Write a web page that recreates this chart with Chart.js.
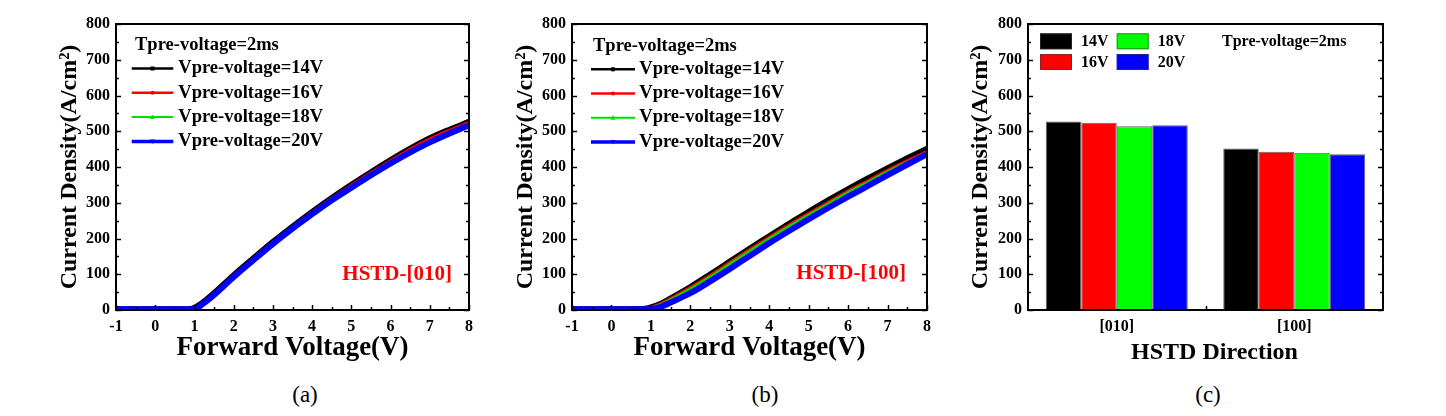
<!DOCTYPE html>
<html><head><meta charset="utf-8">
<script src="https://cdn.jsdelivr.net/npm/chart.js@4.4.1/dist/chart.umd.min.js"></script>
<style>
html,body{margin:0;padding:0;background:#fff;width:1446px;height:416px;overflow:hidden;position:relative;}
canvas{position:absolute;top:0;}
.cap{position:absolute;top:381px;font:23px "Liberation Serif","Times New Roman",serif;color:#000;transform:translateX(-50%);white-space:nowrap;line-height:28px;}
</style></head><body>
<canvas id="ca" style="left:0px" width="480" height="370"></canvas>
<canvas id="cb" style="left:480px" width="466" height="370"></canvas>
<canvas id="cc" style="left:960px" width="486" height="370"></canvas>
<div class="cap" style="left:305px">(a)</div>
<div class="cap" style="left:765px">(b)</div>
<div class="cap" style="left:1208px">(c)</div>
<script>
// ---------- data ----------
const voltage = [-1, -0.5, 0, 0.5, 0.85, 1, 1.25, 1.5, 2, 2.5, 3, 3.5, 4, 4.5, 5, 5.5, 6, 6.5, 7, 7.5, 8];
const seriesNames = ['Vpre-voltage=14V', 'Vpre-voltage=16V', 'Vpre-voltage=18V', 'Vpre-voltage=20V'];

// panel (a) HSTD-[010]
const a14V = [3, 3, 3, 3, 3, 7, 25, 48, 98, 145, 191, 234, 275, 314, 351, 386, 420, 452, 481, 505, 527];
const a16V = [3, 3, 3, 3, 3, 6, 23, 46, 96, 143, 189, 232, 273, 312, 348, 383, 417, 449, 478, 502, 524];
const a18V = [4, 4, 4, 4, 4, 4, 18, 40, 89, 136, 182, 225, 265, 303, 338, 373, 406, 437, 465, 490, 514];
const a20V = [2, 2, 2, 2, 2, 3, 20, 42, 92, 139, 185, 228, 268, 307, 342, 377, 410, 441, 469, 494, 517];

// panel (b) HSTD-[100]
const b14V = [3, 3, 3, 3, 4, 8, 18, 33, 65, 100, 136, 172, 207, 242, 275, 308, 339, 369, 397, 425, 452];
const b16V = [3, 3, 3, 3, 4, 7, 17, 31, 62, 96, 132, 168, 203, 237, 269, 301, 332, 361, 390, 417, 443];
const b18V = [4, 4, 4, 4, 4, 6, 16, 30, 59, 93, 129, 165, 200, 234, 266, 298, 329, 358, 387, 414, 440];
const b20V = [2, 2, 2, 2, 2, 3, 9, 21, 47, 80, 115, 151, 187, 221, 254, 286, 317, 347, 377, 407, 436];

// panel (c)
const directions = ['[010]', '[100]'];
const barNames = ['14V', '16V', '18V', '20V'];
const bar14V = [527, 452];
const bar16V = [524, 443];
const bar18V = [514, 440];
const bar20V = [517, 436];

const xMin = -1, xMax = 8, xStep = 1;
const yMin = 0, yMax = 800, yStep = 100;

const legendTitle = 'Tpre-voltage=2ms';
const yTitle = 'Current Density(A/cm²)';
const xTitleLine = 'Forward Voltage(V)';
const xTitleBar = 'HSTD Direction';

// ---------- styles ----------
const FONT = '"Liberation Serif","Times New Roman",serif';
Chart.defaults.font.family = FONT;
Chart.defaults.color = '#000';
const lineColors = ['#000000', '#ff0000', '#00dd00', '#0000ff'];
const lineWidths = [5.5, 3.5, 2.5, 6];
const legendLineWidths = [2.5, 2.5, 2, 3.5];
const markers = ['rect', 'circle', 'tri', 'itri'];
const barColors = ['#000000', '#ff0000', '#00ff00', '#0000ff'];

function pts(vals) { return voltage.map((v, i) => ({x: v, y: vals[i]})); }

const frameTicks = {
  id: 'frameTicks',
  afterDraw(chart) {
    const {ctx, chartArea: a, scales: {x, y}} = chart;
    ctx.save();
    ctx.strokeStyle = '#000';
    ctx.lineWidth = 1.5;
    ctx.beginPath();
    const yt = y.ticks.map(t => t.value);
    yt.forEach((v, i) => {
      const p = Math.round(y.getPixelForValue(v)) + 0.5;
      ctx.moveTo(a.left, p); ctx.lineTo(a.left + 5, p);
      ctx.moveTo(a.right, p); ctx.lineTo(a.right - 5, p);
      if (i < yt.length - 1) {
        const m = Math.round(y.getPixelForValue((v + yt[i + 1]) / 2)) + 0.5;
        ctx.moveTo(a.left, m); ctx.lineTo(a.left + 3, m);
        ctx.moveTo(a.right, m); ctx.lineTo(a.right - 3, m);
      }
    });
    if (x.type === 'linear') {
      const xt = x.ticks.map(t => t.value);
      xt.forEach((v, i) => {
        const p = Math.round(x.getPixelForValue(v)) + 0.5;
        ctx.moveTo(p, a.bottom); ctx.lineTo(p, a.bottom - 5);
        if (i < xt.length - 1) {
          const m = Math.round(x.getPixelForValue((v + xt[i + 1]) / 2)) + 0.5;
          ctx.moveTo(m, a.bottom); ctx.lineTo(m, a.bottom - 3);
        }
      });
    } else {
      const n = chart.data.labels.length;
      for (let i = 0; i < n - 1; i++) {
        const m = Math.round(x.getPixelForValue(i + 0.5)) + 0.5;
        ctx.moveTo(m, a.bottom); ctx.lineTo(m, a.bottom - 4);
      }
    }
    ctx.stroke();
    ctx.lineWidth = 2;
    ctx.strokeRect(a.left, a.top, a.right - a.left, a.bottom - a.top);
    ctx.restore();
  }
};

function drawMarker(ctx, kind, cx, cy, r, color) {
  ctx.fillStyle = color;
  ctx.beginPath();
  if (kind === 'rect') ctx.rect(cx - r, cy - r, 2 * r, 2 * r);
  else if (kind === 'circle') ctx.arc(cx, cy, r, 0, Math.PI * 2);
  else if (kind === 'tri') { ctx.moveTo(cx, cy - r * 1.3); ctx.lineTo(cx + r * 1.2, cy + r); ctx.lineTo(cx - r * 1.2, cy + r); ctx.closePath(); }
  else { ctx.moveTo(cx, cy + r * 1.3); ctx.lineTo(cx + r * 1.2, cy - r); ctx.lineTo(cx - r * 1.2, cy - r); ctx.closePath(); }
  ctx.fill();
}

const lineLegend = {
  id: 'lineLegend',
  afterDraw(chart, args, o) {
    const {ctx, chartArea: a} = chart;
    ctx.save();
    ctx.font = 'bold 18.5px ' + FONT;
    ctx.textBaseline = 'middle';
    ctx.textAlign = 'left';
    ctx.fillStyle = '#000';
    ctx.fillText(legendTitle, a.left + o.titleDx, a.top + o.titleDy);
    chart.data.datasets.forEach((ds, i) => {
      const yy = a.top + o.row0 + i * o.rowStep;
      ctx.strokeStyle = ds.borderColor;
      ctx.lineWidth = legendLineWidths[i];
      ctx.beginPath();
      ctx.moveTo(a.left + o.line0, yy); ctx.lineTo(a.left + o.line1, yy);
      ctx.stroke();
      drawMarker(ctx, markers[i], a.left + (o.line0 + o.line1) / 2, yy, 2, ds.borderColor);
      ctx.fillStyle = '#000';
      ctx.fillText(ds.label, a.left + o.text0, yy);
    });
    ctx.fillStyle = '#ff0000';
    ctx.font = 'bold 21px ' + FONT;
    ctx.textAlign = 'right';
    ctx.fillText(o.tag, a.right - o.tagDr, a.top + o.tagDy);
    ctx.restore();
  }
};

const barLegend = {
  id: 'barLegend',
  afterDraw(chart) {
    const {ctx, chartArea: a} = chart;
    ctx.save();
    ctx.font = 'bold 16px ' + FONT;
    ctx.textBaseline = 'middle';
    ctx.textAlign = 'left';
    const cols = [12, 88.7];
    const rows = [9.3, 30];
    chart.data.datasets.forEach((ds, i) => {
      const c = Math.floor(i / 2), r = i % 2;
      const bx = a.left + cols[c], by = a.top + rows[r];
      ctx.fillStyle = ds.backgroundColor;
      ctx.fillRect(bx, by, 32, 16);
      ctx.strokeStyle = 'rgba(60,60,60,0.6)';
      ctx.lineWidth = 1;
      ctx.strokeRect(bx + 0.5, by + 0.5, 31, 15);
      ctx.fillStyle = '#000';
      ctx.fillText(ds.label, bx + 41, by + 8.5);
    });
    ctx.fillText(legendTitle, a.left + 194, a.top + 17.5);
    ctx.restore();
  }
};

function yScale(width, titlePad) {
  return {
    min: yMin, max: yMax,
    ticks: {stepSize: yStep, padding: 6, font: {size: 16, weight: 'bold'}, color: '#000'},
    grid: {display: false, drawTicks: false},
    border: {display: false},
    title: {display: true, text: yTitle, font: {size: 24, weight: 'bold'}, color: '#000', padding: {top: titlePad, bottom: 0}},
    afterFit(s) { s.width = width; }
  };
}

function lineChart(id, sets, yWidth, yTitlePad, rightPad, legendOpts) {
  return new Chart(document.getElementById(id), {
    type: 'line',
    data: {
      datasets: sets.map((vals, i) => ({
        label: seriesNames[i],
        data: pts(vals),
        borderColor: lineColors[i],
        borderWidth: lineWidths[i],
        pointRadius: 0,
        cubicInterpolationMode: 'monotone',
        fill: false,
        order: 3 - i
      }))
    },
    options: {
      responsive: false, animation: false, devicePixelRatio: 1,
      layout: {padding: {left: 0, top: 24, right: rightPad, bottom: 0}},
      plugins: {legend: {display: false}, tooltip: {enabled: false}, lineLegend: legendOpts},
      scales: {
        x: {
          type: 'linear', min: xMin, max: xMax,
          ticks: {stepSize: xStep, padding: 7, font: {size: 16, weight: 'bold'}, color: '#000'},
          grid: {display: false, drawTicks: false},
          border: {display: false},
          title: {display: true, text: xTitleLine, font: {size: 27, weight: 'bold'}, color: '#000', padding: {top: 0, bottom: 6}},
          afterFit(s) { s.height = 60; }
        },
        y: yScale(yWidth, yTitlePad)
      }
    },
    plugins: [frameTicks, lineLegend]
  });
}

lineChart('ca', [a14V, a16V, a18V, a20V], 116, 55.6, 9,
  {titleDx: 19, titleDy: 21.5, line0: 15.7, line1: 57.3, text0: 62.3, row0: 44.5, rowStep: 24.3, tag: 'HSTD-[010]', tagDr: 17, tagDy: 251});
lineChart('cb', [b14V, b16V, b18V, b20V], 92, 31.6, 19,
  {titleDx: 21, titleDy: 22.5, line0: 19, line1: 63, text0: 67.3, row0: 45.3, rowStep: 24.2, tag: 'HSTD-[100]', tagDr: 21, tagDy: 250});

new Chart(document.getElementById('cc'), {
  type: 'bar',
  data: {
    labels: directions,
    datasets: [bar14V, bar16V, bar18V, bar20V].map((vals, i) => ({
      label: barNames[i],
      data: vals,
      backgroundColor: barColors[i],
      borderColor: 'rgba(30,30,30,0.7)',
      borderWidth: 1,
      categoryPercentage: 0.8,
      barPercentage: 1.0
    }))
  },
  options: {
    responsive: false, animation: false, devicePixelRatio: 1,
    layout: {padding: {left: 0, top: 24, right: 63, bottom: 0}},
    plugins: {legend: {display: false}, tooltip: {enabled: false}},
    scales: {
      x: {
        ticks: {padding: 7, font: {size: 16, weight: 'bold'}, color: '#000'},
        grid: {display: false, drawTicks: false},
        border: {display: false},
        title: {display: true, text: '   ' + xTitleBar, font: {size: 24, weight: 'bold'}, color: '#000', padding: {top: 0, bottom: 3}},
        afterFit(s) { s.height = 60; }
      },
      y: yScale(68, 6.6)
    }
  },
  plugins: [frameTicks, barLegend]
});
</script>
</body></html>
